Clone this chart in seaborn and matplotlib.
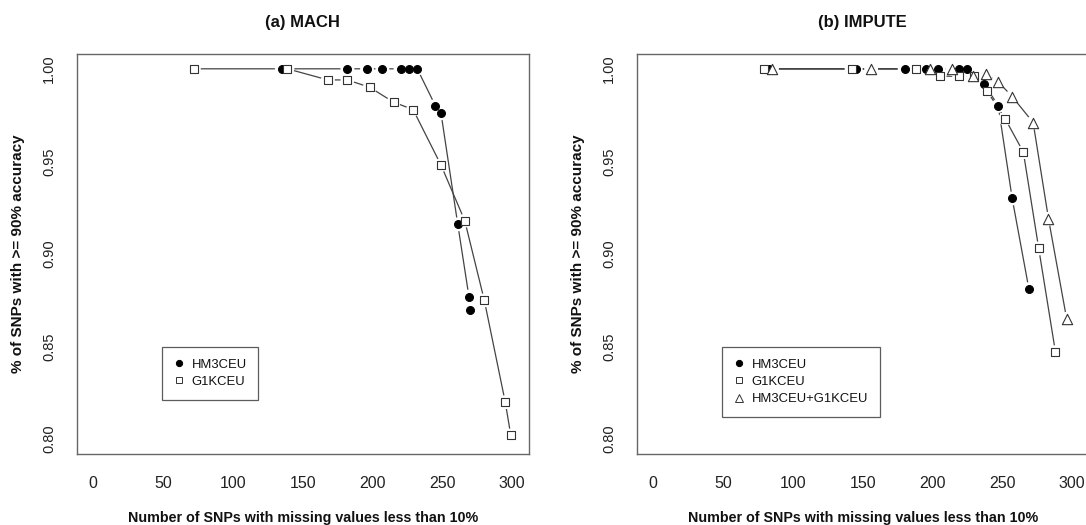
import matplotlib
matplotlib.use("Agg")
import matplotlib.pyplot as plt
import seaborn as sns
from matplotlib.lines import Line2D

sns.set_style("white")
plt.rcParams['font.family'] = ['Liberation Sans', 'DejaVu Sans']

# ---- data ----
mach_hm3_x = [135, 182, 196, 207, 220, 226, 232, 245, 249, 261, 269, 270]
mach_hm3_y = [1.0, 1.0, 1.0, 1.0, 1.0, 1.0, 1.0, 0.980, 0.976, 0.916, 0.877, 0.870]
mach_g1k_x = [72, 139, 168, 182, 198, 215, 229, 249, 266, 280, 295, 299]
mach_g1k_y = [1.0, 1.0, 0.994, 0.994, 0.990, 0.982, 0.978, 0.948, 0.918, 0.875, 0.820, 0.802]

imp_hm3_x = [83, 145, 180, 195, 204, 219, 225, 237, 247, 257, 269]
imp_hm3_y = [1.0, 1.0, 1.0, 1.0, 1.0, 1.0, 1.0, 0.992, 0.980, 0.930, 0.881]
imp_g1k_x = [79, 142, 188, 205, 219, 230, 239, 252, 265, 276, 288]
imp_g1k_y = [1.0, 1.0, 1.0, 0.996, 0.996, 0.996, 0.988, 0.973, 0.955, 0.903, 0.847]
imp_both_x = [85, 156, 198, 214, 229, 238, 247, 257, 272, 283, 296]
imp_both_y = [1.0, 1.0, 1.0, 1.0, 0.996, 0.997, 0.993, 0.985, 0.971, 0.919, 0.865]

x_ticks = [0, 50, 100, 150, 200, 250, 300]
y_ticks = [0.80, 0.85, 0.90, 0.95, 1.00]
y_tick_labels = ["0.80", "0.85", "0.90", "0.95", "1.00"]
titles = ["(a) MACH", "(b) IMPUTE"]
xlabel = "Number of SNPs with missing values less than 10%"
ylabel = "% of SNPs with >= 90% accuracy"

styles = {
    "HM3CEU": dict(marker="o", s=32, facecolor="black", edgecolor="black"),
    "G1KCEU": dict(marker="s", s=32, facecolor="white", edgecolor="#333333"),
    "HM3CEU+G1KCEU": dict(marker="^", s=55, facecolor="white", edgecolor="#333333"),
}

panels = [
    [("HM3CEU", mach_hm3_x, mach_hm3_y), ("G1KCEU", mach_g1k_x, mach_g1k_y)],
    [("HM3CEU", imp_hm3_x, imp_hm3_y), ("G1KCEU", imp_g1k_x, imp_g1k_y),
     ("HM3CEU+G1KCEU", imp_both_x, imp_both_y)],
]

W, H = 1086, 525
fig = plt.figure(figsize=(W / 100, H / 100), dpi=100)
ax_lefts = [76.5, 636.5]
ax_w, ax_top, ax_bot = 452.5, 54, 454

for i, series in enumerate(panels):
    ax = fig.add_axes([ax_lefts[i] / W, (H - ax_bot) / H, ax_w / W, (ax_bot - ax_top) / H])
    # lines
    for name, xs, ys in series:
        sns.lineplot(x=xs, y=ys, ax=ax, sort=False, estimator=None,
                     color="#444444", lw=0.9, zorder=1)
    # white gaps around points (type "b" look)
    for name, xs, ys in series:
        sns.scatterplot(x=xs, y=ys, ax=ax, marker="o", s=100, color="white",
                        edgecolor="none", linewidth=0, zorder=2)
    # markers
    handles = []
    for name, xs, ys in series:
        st = styles[name]
        sns.scatterplot(x=xs, y=ys, ax=ax, marker=st["marker"], s=st["s"],
                        facecolor=st["facecolor"], edgecolor=st["edgecolor"],
                        linewidth=0.8, zorder=3)
        handles.append(Line2D([], [], ls="none", marker=st["marker"],
                              markersize=4.5 if st["marker"] != "^" else 5.5,
                              markerfacecolor=st["facecolor"],
                              markeredgecolor=st["edgecolor"], markeredgewidth=0.7,
                              label=name))
    ax.set_xlim(-12, 312)
    ax.set_ylim(0.792, 1.008)
    ax.set_xticks(x_ticks)
    ax.set_xticklabels([str(t) for t in x_ticks])
    ax.set_yticks(y_ticks)
    ax.set_yticklabels(y_tick_labels)
    for lab in ax.get_yticklabels():
        lab.set_rotation(90)
        lab.set_va("center")
    ax.tick_params(axis="both", direction="out", length=6.5, width=0.9,
                   color="#444444", labelsize=11.5, labelcolor="#222222")
    ax.tick_params(axis="x", pad=9)
    ax.tick_params(axis="y", pad=8, labelsize=10.5)
    for sp in ax.spines.values():
        sp.set_visible(True)
        sp.set_color("#666666")
        sp.set_linewidth(1.0)
    ax.set_xlabel(xlabel, fontsize=10.3, fontweight="bold", color="#111111")
    ax.xaxis.set_label_coords(0.5, -0.16)
    ax.xaxis.label.set_va("center")
    ax.set_ylabel(ylabel, fontsize=11, fontweight="bold", color="#111111")
    ax.yaxis.set_label_coords(-0.129, 0.5)
    ax.yaxis.label.set_va("center")
    ax.text(0.5, 1.08, titles[i], transform=ax.transAxes, ha="center", va="center",
            fontsize=12, fontweight="bold", color="#111111")
    leg = ax.legend(handles=handles, loc="upper left", bbox_to_anchor=(0.189, 0.2675),
                    frameon=True, fancybox=False, fontsize=9.4, handlelength=0.8,
                    handletextpad=0.55, borderpad=0.9, labelspacing=0.38,
                    borderaxespad=0)
    leg.get_frame().set_edgecolor("#333333")
    leg.get_frame().set_linewidth(0.9)
    for t in leg.get_texts():
        t.set_color("#111111")

fig.savefig("out.png", dpi=100, facecolor="white")
